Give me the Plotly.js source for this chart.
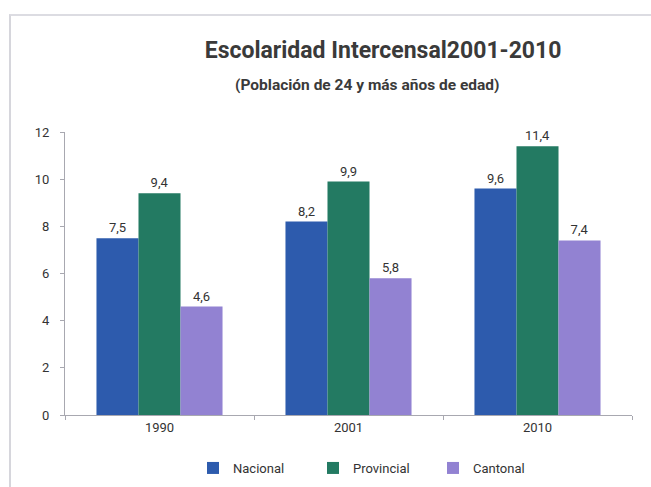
<!DOCTYPE html>
<html>
<head>
<meta charset="utf-8">
<script src="https://cdn.plot.ly/plotly-3.0.1.min.js"></script>
<style>
html,body{margin:0;padding:0;background:#fff;}
#wrap{position:relative;width:651px;height:487px;overflow:hidden;}
#frame{position:absolute;left:9px;top:14px;width:700px;height:500px;border-left:2px solid #d6d6dc;border-top:2px solid #dcdce2;}
#chart{position:absolute;left:0;top:0;width:651px;height:487px;}
</style>
</head>
<body>
<div id="wrap"><div id="frame"></div><div id="chart"></div></div>
<script>
const categories = ["1990", "2001", "2010"];
const nacional = [7.5, 8.2, 9.6];
const provincial = [9.4, 9.9, 11.4];
const cantonal = [4.6, 5.8, 7.4];
const seriesNames = ["Nacional", "Provincial", "Cantonal"];
const yTicks = [0, 2, 4, 6, 8, 10, 12];

const font = "'Liberation Sans Narrow', 'Arial Narrow', Roboto, 'Liberation Sans', sans-serif";
const colors = ["#2d5bad", "#237a62", "#9282d2"];
const vals = [nacional, provincial, cantonal];

const traces = vals.map((v, i) => ({
  type: "bar",
  name: seriesNames[i],
  x: categories,
  y: v,
  marker: {color: colors[i]},
  texttemplate: "%{y:.1f}",
  textposition: "outside",
  cliponaxis: false,
  textfont: {family: font, size: 13, color: "#333"},
  hoverinfo: "skip"
}));

const layout = {
  width: 651, height: 487,
  paper_bgcolor: "rgba(0,0,0,0)",
  plot_bgcolor: "rgba(0,0,0,0)",
  separators: ",.",
  margin: {l: 65, r: 19, t: 132, b: 72, autoexpand: false},
  barmode: "group",
  bargap: 0.333,
  bargroupgap: 0,
  showlegend: true,
  title: {
    text: "<b>Escolaridad Intercensal2001-2010</b>",
    font: {family: font, size: 23, color: "#3a3a3a"},
    x: 0.561, xanchor: "center",
    y: 0.897, yanchor: "middle", xref: "paper", yref: "container"
  },
  annotations: [{
    text: "<b>(Población de 24 y más años de edad)</b>",
    xref: "paper", yref: "paper",
    x: (367 - 65) / 567, y: (415 - 85) / 283,
    xanchor: "center", yanchor: "middle",
    showarrow: false,
    font: {family: font, size: 15.5, color: "#3a3a3a"}
  }],
  xaxis: {
    type: "category",
    showline: true, linecolor: "#a8a8b0", linewidth: 1,
    ticks: "outside", tickson: "boundaries", ticklen: 4, tickcolor: "#a8a8b0",
    tickfont: {family: font, size: 13, color: "#333"},
    showgrid: false, zeroline: false
  },
  yaxis: {
    range: [0, 12],
    tickvals: yTicks,
    showline: true, linecolor: "#a8a8b0", linewidth: 1,
    ticks: "outside", ticklen: 4, tickcolor: "#a8a8b0",
    tickfont: {family: font, size: 13, color: "#333"},
    showgrid: false, zeroline: false,
    ticklabelstandoff: 8
  },
  legend: {
    orientation: "h",
    x: (193 - 65) / 567, xanchor: "left",
    y: (415 - 468) / 283, yanchor: "middle",
    font: {family: font, size: 13, color: "#333"},
    entrywidth: 75,
    itemwidth: 30,
    tracegroupgap: 0
  }
};

Plotly.newPlot("chart", traces, layout, {displayModeBar: false, staticPlot: true});
</script>
</body>
</html>
